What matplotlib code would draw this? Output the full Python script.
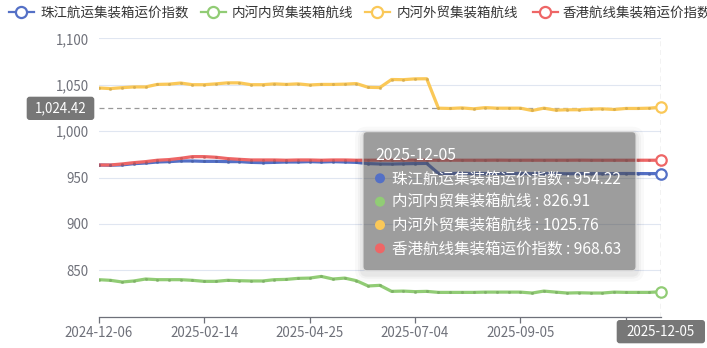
import matplotlib
matplotlib.use('Agg')
import matplotlib.pyplot as plt
from matplotlib.patches import FancyBboxPatch, Circle
from matplotlib.lines import Line2D
import numpy as np

plt.rcParams['font.family'] = ['Noto Sans CJK SC', 'DejaVu Sans']

# weekly dates (holiday weeks missing)
dates = ['2024-12-06', '2024-12-13', '2024-12-20', '2024-12-27', '2025-01-03', '2025-01-10',
         '2025-01-17', '2025-01-24', '2025-02-07', '2025-02-14', '2025-02-21', '2025-02-28',
         '2025-03-07', '2025-03-14', '2025-03-21', '2025-03-28', '2025-04-11', '2025-04-18',
         '2025-04-25', '2025-05-09', '2025-05-16', '2025-05-23', '2025-05-30', '2025-06-06',
         '2025-06-13', '2025-06-20', '2025-06-27', '2025-07-04', '2025-07-11', '2025-07-18',
         '2025-07-25', '2025-08-01', '2025-08-08', '2025-08-15', '2025-08-22', '2025-08-29',
         '2025-09-05', '2025-09-12', '2025-09-19', '2025-09-26', '2025-10-10', '2025-10-17',
         '2025-10-24', '2025-10-31', '2025-11-07', '2025-11-14', '2025-11-21', '2025-11-28',
         '2025-12-05']

names = ['珠江航运集装箱运价指数', '内河内贸集装箱航线', '内河外贸集装箱航线', '香港航线集装箱运价指数']
colors = ['#5470c6', '#91cc75', '#fac858', '#ee6666']

zhujiang = [963.5, 963.2, 963.6, 964.9, 965.6, 966.7, 967.1, 967.8, 967.8, 967.4,
            967.4, 967.1, 967.1, 966.3, 966.0, 966.3, 966.7, 966.7, 967.1, 966.7,
            967.1, 966.7, 966.3, 965.0, 964.6, 964.5, 964.8, 965.0, 965.2, 954.4,
            954.3, 954.5, 954.2, 954.3, 954.4, 954.2, 954.3, 954.1, 954.3, 954.2,
            954.0, 954.2, 954.3, 954.1, 954.2, 954.3, 954.2, 954.2, 954.22]
neihe_nm = [839.9, 839.2, 837.4, 838.5, 840.6, 839.9, 839.9, 839.9, 839.2, 838.1,
            838.1, 839.2, 838.8, 838.5, 838.5, 839.9, 840.2, 841.3, 841.6, 843.4,
            840.6, 841.6, 838.8, 833.1, 833.8, 827.3, 827.6, 827.0, 827.3, 826.2,
            826.2, 826.2, 826.2, 826.5, 826.5, 826.5, 826.5, 825.5, 827.6, 826.5,
            825.5, 825.8, 825.5, 825.5, 826.5, 826.2, 826.2, 826.2, 826.91]
neihe_wm = [1046.5, 1045.8, 1046.8, 1047.6, 1047.6, 1050.3, 1050.6, 1051.8, 1050.0, 1050.0,
            1050.9, 1052.0, 1052.0, 1050.0, 1050.0, 1050.9, 1050.3, 1050.9, 1049.7, 1050.3,
            1050.3, 1050.6, 1051.2, 1047.2, 1046.9, 1055.6, 1055.4, 1056.3, 1056.4, 1024.7,
            1024.4, 1025.0, 1024.0, 1025.3, 1024.7, 1024.7, 1024.7, 1022.2, 1024.7, 1022.6,
            1023.0, 1023.0, 1023.7, 1024.0, 1023.3, 1024.4, 1024.4, 1024.7, 1025.76]
hongkong = [963.5, 963.5, 964.6, 966.0, 967.1, 968.6, 969.3, 970.7, 972.5, 972.5,
            971.8, 970.4, 969.6, 968.9, 968.9, 968.9, 968.6, 968.9, 968.9, 968.6,
            968.9, 968.9, 968.6, 968.6, 968.7, 968.6, 968.6, 968.7, 968.6, 968.6,
            968.7, 968.6, 968.6, 968.6, 968.7, 968.6, 968.6, 968.6, 968.6, 968.6,
            968.6, 968.7, 968.6, 968.6, 968.6, 968.6, 968.6, 968.6, 968.63]

series = [zhujiang, neihe_nm, neihe_wm, hongkong]
yticks = [850, 900, 950, 1000, 1050, 1100]
pointer_y = 1024.42

W, H = 707, 348
fig = plt.figure(figsize=(W / 100, H / 100), dpi=100)

# plot area in pixels
x0, x1, y_top, y_bot = 98.7, 661.0, 38.3, 316.7
ax = fig.add_axes([x0 / W, 1 - y_bot / H, (x1 - x0) / W, (y_bot - y_top) / H])
ax.set_xlim(0, len(dates) - 1)
ax.set_ylim(800, 1100)
for s in ['left', 'right', 'top']:
    ax.spines[s].set_visible(False)
ax.spines['bottom'].set_color('#6E7079')
ax.spines['bottom'].set_linewidth(0.9)
ax.set_yticks(yticks)
ax.set_yticklabels(['{:,}'.format(v) for v in yticks])
ax.tick_params(axis='y', length=0, pad=7, labelsize=9.6, labelcolor='#6E7079')
ax.grid(axis='y', color='#E0E6F1', linewidth=0.8)
xt = list(range(0, len(dates), 9))
ax.set_xticks(xt)
# the label at index 45 is hidden behind the pointer label in the original
ax.set_xticklabels([dates[i] if i < 45 else '' for i in xt])
ax.tick_params(axis='x', length=4, width=0.9, color='#6E7079', pad=3,
               labelsize=9.6, labelcolor='#6E7079')
ax.set_axisbelow(True)

xs = np.arange(len(dates))
for vals, c in zip(series, colors):
    dark = tuple(0.8 * np.array(matplotlib.colors.to_rgb(c)))
    ax.plot(xs, vals, color=c, lw=2.3, solid_joinstyle='round', zorder=3)
    ax.plot(xs[:-1], vals[:-1], 'o', ms=2.2, mfc=dark, mew=0, alpha=0.6, zorder=4)

# axis pointer lines
ax.axhline(pointer_y, color='#999999', lw=0.9, ls=(0, (4, 3)), zorder=2)
ax.axvline(len(dates) - 1, color='#999999', lw=0.9, ls=(0, (4, 3)), zorder=2)
for vals, c in zip(series, colors):
    ax.plot(xs[-1], vals[-1], 'o', ms=7.5, mfc='white', mec=c, mew=1.6, zorder=6, clip_on=False)

# overlay in pixel coordinates
ov = fig.add_axes([0, 0, 1, 1], zorder=10)
ov.set_xlim(0, W)
ov.set_ylim(H, 0)
ov.axis('off')
ov.patch.set_alpha(0)

# legend
leg_icon_x = [21, 213, 377, 545]
leg_text_x = [40, 232, 397, 563]
for name, c, ix, tx in zip(names, colors, leg_icon_x, leg_text_x):
    ov.add_line(Line2D([ix - 12.5, ix + 12.5], [12, 12], color=c, lw=1.6))
    ov.plot(ix, 12, 'o', ms=8, mfc='white', mec=c, mew=1.6)
    ov.text(tx, 12.5, name, fontsize=9.7, color='#333333', va='center', ha='left')

# y pointer label
ov.add_patch(FancyBboxPatch((26.7, 96.7), 67.6, 23.3, boxstyle='round,pad=0,rounding_size=3',
                            fc='#777777', ec='none'))
ov.text(60.5, 108.6, '{:,.2f}'.format(pointer_y), color='white', fontsize=9.6, ha='center', va='center')

# x pointer label
ov.add_patch(FancyBboxPatch((616.7, 320), 88.3, 23.3, boxstyle='round,pad=0,rounding_size=3',
                            fc='#777777', ec='none'))
ov.text(661, 331.8, dates[-1], color='white', fontsize=9.6, ha='center', va='center')

# tooltip
bx, by, bw, bh = 363, 131.7, 273, 139
for k, a in zip([8, 5, 3], [0.025, 0.03, 0.04]):
    ov.add_patch(FancyBboxPatch((bx - k, by - k + 3), bw + 2 * k, bh + 2 * k,
                                boxstyle='round,pad=0,rounding_size=%d' % (4 + k),
                                fc='black', ec='none', alpha=a))
ov.add_patch(FancyBboxPatch((bx, by), bw, bh, boxstyle='round,pad=0,rounding_size=4',
                            fc=(0.33, 0.33, 0.33, 0.5), ec='#dddddd', lw=0.8))
ov.text(375, 155, dates[-1], color='white', fontsize=11.4, ha='left', va='center')
row_y = [178.3, 201.7, 225.0, 248.3]
for name, c, vals, ry in zip(names, colors, series, row_y):
    ov.add_patch(Circle((380, ry), 5, fc=c, ec='none'))
    ov.text(391.7, ry + 0.5, '%s : %s' % (name, vals[-1]), color='white', fontsize=11.2,
            ha='left', va='center')

fig.savefig('out.png', dpi=100)
